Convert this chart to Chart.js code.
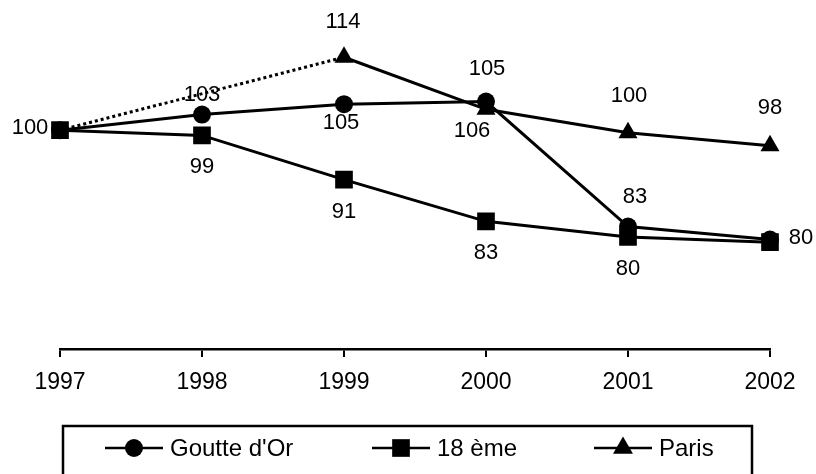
<!DOCTYPE html>
<html>
<head>
<meta charset="utf-8">
<script src="https://cdn.jsdelivr.net/npm/chart.js@4.4.0/dist/chart.umd.min.js"></script>
<style>
    html, body { margin: 0; padding: 0; background: #fff; }
    #wrap { width: 816px; height: 474px; position: relative; }
</style>
</head>
<body>
<div id="wrap"><canvas id="chart"></canvas></div>
<script>
const years = ["1997", "1998", "1999", "2000", "2001", "2002"];

// index values (1997 = 100)
const goutteDOr = [100, 103, 105, 105.5, 81.5, 79];
const dix8eme = [100, 99, 90.5, 82.5, 79.5, 78.5];
const paris = [100, null, 114, 104, 99.5, 97];

// numbers printed next to the markers
const goutteLabels = ["", "103", "105", "106", "83", "80"];
const dix8Labels = ["100", "99", "91", "83", "80", ""];
const parisLabels = ["", "", "114", "105", "100", "98"];

// where each printed number sits relative to its marker [dx, dy]
const goutteOffsets = [null, [0, -20], [-3, 19], [-14, 29], [7, -30], [31, -2]];
const dix8Offsets = [[-30, -2], [0, 32], [0, 32], [0, 32], [0, 32], null];
const parisOffsets = [null, null, [-1, -35], [1, -40], [1, -37], [0, -38]];

const FONT = "'Liberation Sans', Arial, sans-serif";

function drawMarker(ctx, style, r, x, y) {
    ctx.beginPath();
    if (style === "circle") {
        ctx.arc(x, y, r, 0, Math.PI * 2);
    } else if (style === "rect") {
        const s = r * Math.SQRT1_2;
        ctx.rect(x - s, y - s, 2 * s, 2 * s);
    } else {
        const w = r * Math.sin(Math.PI / 3);
        ctx.moveTo(x, y - r);
        ctx.lineTo(x + w, y + r / 2);
        ctx.lineTo(x - w, y + r / 2);
        ctx.closePath();
    }
    ctx.fill();
}

const valueLabels = {
    id: "valueLabels",
    afterDatasetsDraw(chart) {
        const ctx = chart.ctx;
        ctx.save();
        ctx.font = "22px " + FONT;
        ctx.fillStyle = "#000";
        ctx.textAlign = "center";
        ctx.textBaseline = "middle";
        chart.data.datasets.forEach((ds, i) => {
            const meta = chart.getDatasetMeta(i);
            meta.data.forEach((pt, j) => {
                const txt = ds.valueLabels[j];
                const off = ds.labelOffsets[j];
                if (!txt || !off) return;
                ctx.fillText(txt, pt.x + off[0], pt.y + off[1]);
            });
        });
        ctx.restore();
    }
};

const boxLegend = {
    id: "boxLegend",
    afterDraw(chart) {
        const ctx = chart.ctx;
        ctx.save();
        ctx.strokeStyle = "#000";
        ctx.fillStyle = "#000";
        ctx.lineWidth = 2.5;
        ctx.strokeRect(63, 426, 689, 70);
        ctx.font = "24px " + FONT;
        ctx.textBaseline = "middle";
        ctx.textAlign = "left";
        const xs = [105, 372, 594];
        const y = 448;
        chart.data.datasets.forEach((ds, i) => {
            const x0 = xs[i];
            ctx.beginPath();
            ctx.moveTo(x0, y);
            ctx.lineTo(x0 + 58, y);
            ctx.stroke();
            drawMarker(ctx, ds.pointStyle, ds.legendRadius, x0 + 29, y);
            ctx.fillText(ds.label, x0 + 65, y + 1);
        });
        ctx.restore();
    }
};

const common = {
    borderColor: "#000",
    backgroundColor: "#000",
    pointBackgroundColor: "#000",
    pointBorderColor: "#000",
    pointBorderWidth: 0,
    borderWidth: 3,
    tension: 0
};

new Chart(document.getElementById("chart"), {
    type: "line",
    data: {
        labels: years,
        datasets: [
            Object.assign({}, common, {
                label: "Goutte d'Or",
                data: goutteDOr,
                pointStyle: "circle",
                pointRadius: 9,
                legendRadius: 9,
                valueLabels: goutteLabels,
                labelOffsets: goutteOffsets
            }),
            Object.assign({}, common, {
                label: "18 ème",
                data: dix8eme,
                pointStyle: "rect",
                pointRadius: 12.5,
                legendRadius: 12.5,
                valueLabels: dix8Labels,
                labelOffsets: dix8Offsets
            }),
            Object.assign({}, common, {
                label: "Paris",
                data: paris,
                pointStyle: "triangle",
                // the 1997 triangle is hidden behind the square
                pointRadius: [0, 11, 11, 11, 11, 11],
                legendRadius: 11.5,
                spanGaps: true,
                segment: {
                    borderDash: c => (c.p0.skip || c.p1.skip ? [3, 3] : undefined)
                },
                valueLabels: parisLabels,
                labelOffsets: parisOffsets
            })
        ]
    },
    options: {
        responsive: true,
        maintainAspectRatio: false,
        animation: false,
        layout: { padding: { left: 60, right: 46, top: 26, bottom: 0 } },
        plugins: {
            legend: { display: false },
            tooltip: { enabled: false }
        },
        scales: {
            x: {
                grid: { display: true, drawOnChartArea: false, drawTicks: true, tickLength: 8, color: "#000", lineWidth: 2 },
                border: { display: true, color: "#000", width: 2.5 },
                ticks: { color: "#000", font: { family: FONT, size: 23 }, padding: 12, maxRotation: 0, autoSkip: false },
                afterFit(scale) { scale.height = 125; }
            },
            y: { display: false, min: 58, max: 120 }
        }
    },
    plugins: [valueLabels, boxLegend]
});
</script>
</body>
</html>
